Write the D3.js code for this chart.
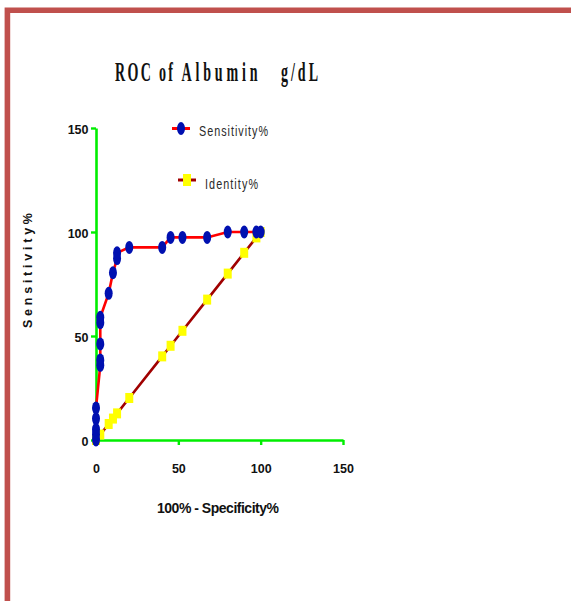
<!DOCTYPE html>
<html>
<head>
<meta charset="utf-8">
<script src="https://cdn.jsdelivr.net/npm/d3@7"></script>
<style>
  html, body { margin: 0; padding: 0; background: #ffffff; }
  svg { display: block; }
</style>
</head>
<body>
<svg id="chart" width="571" height="601"></svg>
<script>
// ROC curve for albumin (g/dL): sensitivity against 100% - specificity
const specComplement = [0, 0, 0, 0, 0, 2.6, 2.6, 2.6, 2.6, 2.6, 7.7, 10.3, 12.8, 12.8, 20.2, 40.2, 45.3, 52.5, 67.5, 80, 90, 97.4, 100];
const sensitivity    = [0, 2.6, 5.1, 10.3, 15.4, 35.9, 38.5, 46.2, 56.4, 59.0, 70.5, 80.4, 87.2, 90.0, 92.6, 92.6, 97.4, 97.4, 97.4, 100, 100, 100, 100];

// Reference (chance) diagonal
const identityX = [0, 2.6, 7.7, 10.3, 12.8, 20.2, 40.2, 45.3, 52.5, 67.5, 80, 90, 97.4, 100];
const identityY = [0, 2.6, 7.7, 10.3, 12.8, 20.2, 40.2, 45.3, 52.5, 67.5, 80, 90, 97.4, 100];

const xTicks = [0, 50, 100, 150];
const yTicks = [0, 50, 100, 150];

const titleWords = ["ROC", "of", "Albumin", "g/dL"];
const seriesNames = ["Sensitivity%", "Identity%"];
const xTitle = "100% - Specificity%";
const yTitle = "Sensitivity%";

const svg = d3.select("#chart");

// Page frame
svg.append("path")
  .attr("d", "M7.4,601 V10.3 H571")
  .attr("fill", "none")
  .attr("stroke", "#c0504d")
  .attr("stroke-width", 5.6);

const x = d3.scaleLinear().domain([0, 150]).range([96, 343]);
const y = d3.scaleLinear().domain([0, 150]).range([440, 128]);

// Narrow, letter-spaced text: glyphs squeezed horizontally, gaps fill the width
function narrowText(parent, str, x0, y0, width, squeeze, attrs) {
  const g = parent.append("g").attr("transform", `translate(${x0},${y0}) scale(${squeeze},1)`);
  const t = g.append("text")
    .attr("x", 0).attr("y", 0)
    .attr("textLength", width / squeeze)
    .attr("lengthAdjust", "spacing")
    .text(str);
  Object.entries(attrs).forEach(([k, v]) => t.attr(k, v));
  return t;
}

// Title, word by word
const titleLayout = [[115, 36], [159, 14], [181.5, 76], [281, 37]];
const titleG = svg.append("g");
titleWords.forEach((w, i) => {
  narrowText(titleG, w, titleLayout[i][0], 81.3, titleLayout[i][1], 0.52, {
    "font-family": "Liberation Serif, Times New Roman, serif",
    "font-weight": "bold",
    "font-size": 27,
    "fill": "#111"
  });
});

// Axes
const axisColor = "#00ee00";
const yAxis = svg.append("g")
  .attr("transform", `translate(${x(0)},0)`)
  .call(d3.axisLeft(y).tickValues(yTicks).tickSize(5).tickSizeOuter(0).tickPadding(3).tickFormat(d3.format("d")));
const xAxis = svg.append("g")
  .attr("transform", `translate(0,${y(0)})`)
  .call(d3.axisBottom(x).tickValues(xTicks).tickSize(5).tickSizeOuter(0).tickPadding(19).tickFormat(d3.format("d")));

[xAxis, yAxis].forEach(a => {
  a.select(".domain").attr("stroke", axisColor).attr("stroke-width", 2.6);
  a.selectAll(".tick line").attr("stroke", axisColor).attr("stroke-width", 2.4);
  a.selectAll(".tick text")
    .attr("font-family", "Liberation Sans, Arial, sans-serif")
    .attr("font-weight", "bold")
    .attr("font-size", 12.5)
    .attr("fill", "#111");
});
yAxis.selectAll(".tick text").attr("x", -7.5).attr("dy", "0.45em");

// Axis titles
svg.append("text")
  .attr("x", 157).attr("y", 513)
  .attr("textLength", 122).attr("lengthAdjust", "spacing")
  .attr("font-family", "Liberation Sans, Arial, sans-serif")
  .attr("font-weight", "bold").attr("font-size", 14)
  .attr("fill", "#111")
  .text(xTitle);

svg.append("text")
  .attr("transform", "translate(32,328) rotate(-90)")
  .attr("x", 0).attr("y", 0)
  .attr("textLength", 115).attr("lengthAdjust", "spacing")
  .attr("font-family", "Liberation Sans, Arial, sans-serif")
  .attr("font-weight", "bold").attr("font-size", 12.5)
  .attr("fill", "#111")
  .text(yTitle);

const line = d3.line().x(d => x(d[0])).y(d => y(d[1]));

// Identity series
const idPts = identityX.map((v, i) => [v, identityY[i]]);
svg.append("path")
  .datum(idPts)
  .attr("d", line)
  .attr("fill", "none")
  .attr("stroke", "#a00000")
  .attr("stroke-width", 2.6);
svg.append("g").selectAll("rect")
  .data(idPts).join("rect")
  .attr("x", d => x(d[0]) - 4)
  .attr("y", d => y(d[1]) - 5)
  .attr("width", 8).attr("height", 10)
  .attr("fill", "#ffff00");

// Sensitivity series
const sePts = specComplement.map((v, i) => [v, sensitivity[i]]);
svg.append("path")
  .datum(sePts)
  .attr("d", line)
  .attr("fill", "none")
  .attr("stroke", "#ff0000")
  .attr("stroke-width", 2.6);
svg.append("g").selectAll("ellipse")
  .data(sePts).join("ellipse")
  .attr("cx", d => x(d[0]))
  .attr("cy", d => y(d[1]))
  .attr("rx", 4).attr("ry", 6.5)
  .attr("fill", "#0010b0");

// Legend
const legend = svg.append("g");
const legendFont = {
  "font-family": "Liberation Sans, Arial, sans-serif",
  "font-size": 15,
  "fill": "#2a2a2a"
};
legend.append("line").attr("x1", 172).attr("x2", 190).attr("y1", 128.5).attr("y2", 128.5)
  .attr("stroke", "#ff0000").attr("stroke-width", 3);
legend.append("ellipse").attr("cx", 181).attr("cy", 128.5).attr("rx", 4).attr("ry", 6.5).attr("fill", "#0010b0");
narrowText(legend, seriesNames[0], 199, 135.5, 69, 0.72, legendFont);

legend.append("line").attr("x1", 178).attr("x2", 196).attr("y1", 180).attr("y2", 180)
  .attr("stroke", "#a00000").attr("stroke-width", 3);
legend.append("rect").attr("x", 183).attr("y", 174).attr("width", 8).attr("height", 12).attr("fill", "#ffff00");
narrowText(legend, seriesNames[1], 205, 189, 53, 0.72, legendFont);
</script>
</body>
</html>
